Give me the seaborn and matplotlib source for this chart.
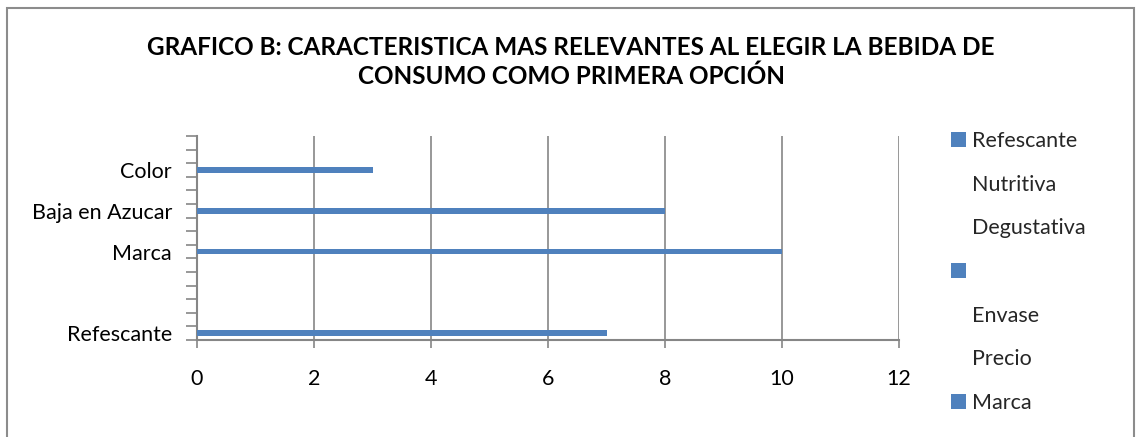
import matplotlib
matplotlib.use("Agg")
import matplotlib.pyplot as plt
from matplotlib.patches import Patch, Rectangle
import seaborn as sns
import pandas as pd

# ---- data (top to bottom, as drawn) ----
categories = ["cat15", "cat14", "Color", "cat12", "cat11", "Baja en Azucar", "cat09",
              "cat08", "Marca", "cat06", "cat05", "cat04", "cat03", "cat02", "Refescante"]
tick_labels = ["", "", "Color", "", "", "Baja en Azucar", "", "", "Marca", "", "", "", "", "", "Refescante"]
values = [0, 0, 3, 0, 0, 8, 0, 0, 10, 0, 0, 0, 0, 0, 7]
x_ticks = [0, 2, 4, 6, 8, 10, 12]
legend_labels = ["Refescante", "Nutritiva", "Degustativa", "", "Envase", "Precio", "Marca"]
legend_marked = [True, False, False, True, False, False, True]
title = "GRAFICO B: CARACTERISTICA MAS RELEVANTES AL ELEGIR LA BEBIDA DE\nCONSUMO COMO PRIMERA OPCIÓN"

BLUE = "#4F81BD"
GRID = "#868686"
FS = 15.5

sns.set_theme(style="white")
plt.rcParams["font.family"] = ["Lato", "DejaVu Sans"]

df = pd.DataFrame({"cat": categories, "val": values})

fig = plt.figure(figsize=(11.38, 4.37), dpi=100)
ax = fig.add_axes([197 / 1138, (437 - 340) / 437, (899 - 197) / 1138, (340 - 136) / 437])

sns.barplot(data=df, y="cat", x="val", order=categories, orient="h", color=BLUE,
            width=0.42, saturation=1, linewidth=0, ax=ax, zorder=3)

ax.set_xlim(x_ticks[0], x_ticks[-1])
ax.set_xticks(x_ticks)
ax.set_xticklabels([str(t) for t in x_ticks], fontsize=FS, color="black")
ax.tick_params(axis="x", bottom=True, length=6, width=1.2, color=GRID, pad=15, direction="out")
ax.xaxis.grid(True, color=GRID, linewidth=1.2, zorder=0)
ax.set_axisbelow(True)

n = len(categories)
ax.set_yticks([i - 0.5 for i in range(n + 1)])
ax.set_yticklabels([])
ax.set_yticks(list(range(n)), minor=True)
ax.set_yticklabels(tick_labels, minor=True, fontsize=FS, color="black")
ax.tick_params(axis="y", which="major", left=True, length=8, width=1.2, color=GRID, direction="out")
ax.tick_params(axis="y", which="minor", left=True, length=0, pad=18)
ax.set_ylim(n - 0.5, -0.5)

ax.set_xlabel("")
ax.set_ylabel("")
for s in ["top", "right"]:
    ax.spines[s].set_visible(False)
for s in ["left", "bottom"]:
    ax.spines[s].set_color(GRID)
    ax.spines[s].set_linewidth(1.5)

fig.text(571 / 1138, 1 - 62 / 437, title, ha="center", va="center", fontsize=17.5,
         fontweight="bold", color="black", linespacing=1.3)

handles = [Patch(facecolor=BLUE if m else "none", edgecolor="none") for m in legend_marked]
leg = fig.legend(handles, legend_labels, loc="upper left",
                 bbox_to_anchor=(951 / 1138, 1 - 131 / 437), frameon=False,
                 fontsize=FS, handlelength=0.68, handleheight=0.68,
                 handletextpad=0.3, labelspacing=1.1, borderpad=0, borderaxespad=0)

fig.patches.append(Rectangle((7 / 1138, -0.05), (1134 - 7) / 1138, 1.05 - 8 / 437,
                             transform=fig.transFigure, fill=False,
                             edgecolor="#8C8C8C", linewidth=1.5))

fig.savefig("out.png", dpi=100)
